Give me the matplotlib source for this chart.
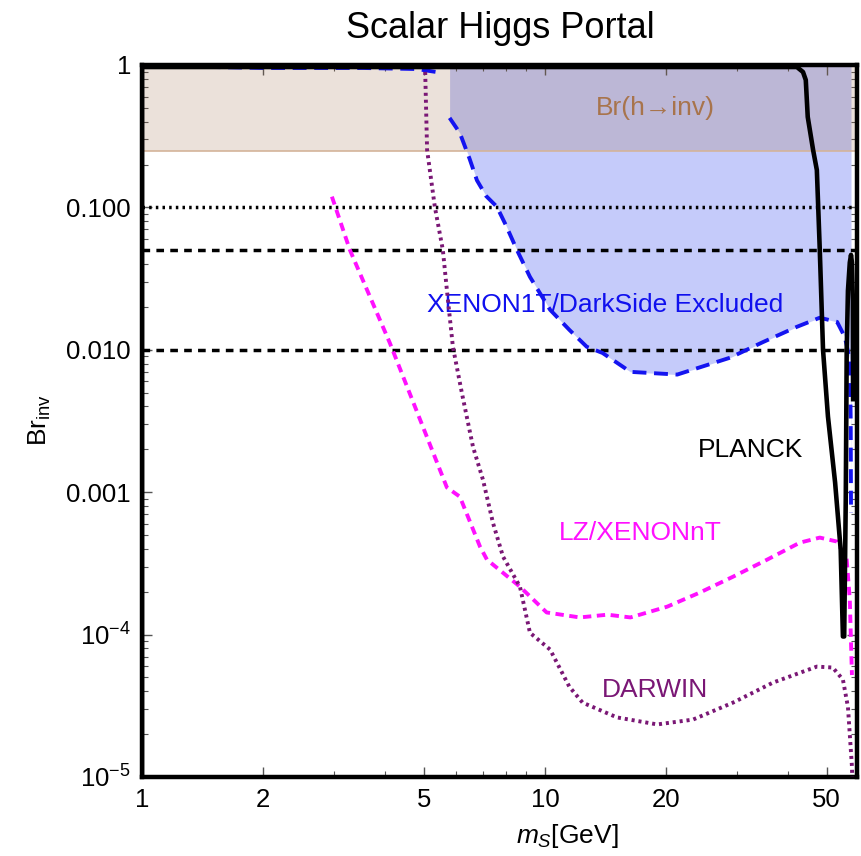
import numpy as np
import matplotlib
matplotlib.use("Agg")
import matplotlib.pyplot as plt
from matplotlib.ticker import FixedLocator, NullFormatter, LogLocator

plt.rcParams['font.family'] = ['Liberation Sans', 'DejaVu Sans']
plt.rcParams['mathtext.fontset'] = 'custom'
plt.rcParams['mathtext.rm'] = 'Liberation Sans'
plt.rcParams['mathtext.it'] = 'Liberation Sans:italic'
plt.rcParams['lines.scale_dashes'] = False

# XENON1T/DarkSide excluded boundary (blue dashed)
xenon_top_x = [1.0, 2.0, 3.54, 4.81, 5.58]
xenon_top_y = [0.99, 0.953, 0.953, 0.937, 0.879]
xenon_x = [5.8, 6.15, 6.5, 6.78, 7.15, 7.60, 8.0, 8.52, 9.18, 10.3, 11.5, 12.7, 13.9, 16.3,
           21.3, 28.8, 34.7, 42.2, 48.1, 53.1, 55.5, 57.1, 57.4, 57.5]
xenon_y = [0.425, 0.333, 0.22, 0.155, 0.12, 0.101, 0.075, 0.0503, 0.0325, 0.0191, 0.0138,
           0.0105, 0.0095, 0.0070, 0.0067, 0.0088, 0.0113, 0.0145, 0.0168, 0.0157, 0.0123,
           0.0085, 0.0032, 0.00072]

# LZ/XENONnT projection (magenta dashed)
lz_x = [2.96, 3.28, 4.12, 4.90, 5.71, 6.15, 6.90, 7.18, 8.67, 10.1, 12.2, 14.3, 16.3,
        20.1, 24.2, 29.3, 35.6, 42.9, 48.1, 53.1, 56.1, 57.1, 57.8]
lz_y = [0.119, 0.0503, 0.0112, 0.00323, 0.00108, 0.00093, 0.000415, 0.000336, 0.000217,
        0.000143, 0.000132, 0.000138, 0.000132, 0.000157, 0.000197, 0.000255, 0.000336,
        0.000442, 0.00048, 0.00045, 0.000336, 0.000176, 5.2e-5]

# DARWIN projection (purple dotted)
darwin_x = [5.04, 5.10, 5.33, 5.58, 5.71, 5.91, 6.22, 6.63, 7.02, 7.43, 7.87, 8.67, 9.18,
            10.3, 11.5, 12.4, 15.1, 19.0, 23.3, 29.3, 36.8, 47.3, 51.8, 54.9, 56.5, 57.8, 57.9]
darwin_y = [1.0, 0.253, 0.101, 0.0503, 0.0264, 0.0105, 0.00499, 0.00208, 0.00122, 0.00061,
            0.000353, 0.000217, 0.000103, 7.85e-5, 4.3e-5, 3.33e-5, 2.62e-5, 2.34e-5,
            2.53e-5, 3.33e-5, 4.6e-5, 5.96e-5, 5.87e-5, 4.83e-5, 3.1e-5, 1.19e-5, 1e-5]

# PLANCK relic density (black solid)
planck_x = [1.0, 1.0, 42.2, 43.7, 44.4, 44.9, 46.3, 47.3, 48.1, 49.0, 50.4, 52.5, 54.2,
            54.9, 55.3, 55.8, 56.1, 56.5, 57.1, 57.5, 57.8, 58.1, 58.2]
planck_y = [1e-5, 0.968, 0.968, 0.893, 0.785, 0.432, 0.253, 0.183, 0.0503, 0.01, 0.0034,
            0.00117, 0.000395, 9.7e-5, 9.7e-5, 0.00089, 0.01, 0.026, 0.041, 0.0464, 0.041,
            0.0225, 0.0045]

# Br(h->inv) band and reference lines
br_inv_lo = 0.25
ref_dotted = [0.1]
ref_dashed = [0.05, 0.01]

y_ticks = [1e-5, 1e-4, 1e-3, 1e-2, 1e-1, 1]
y_labels = ['$10^{-5}$', '$10^{-4}$', '0.001', '0.010', '0.100', '1']
x_ticks = [1, 2, 5, 10, 20, 50]
x_labels = ['1', '2', '5', '10', '20', '50']

xmin, xmax = 1.0, 59.5

fig = plt.figure(figsize=(8.61, 8.56), dpi=100)
ax = fig.add_axes([142/861, 1 - 777/856, (857 - 142)/861, (777 - 65)/856])
ax.set_xscale('log')
ax.set_yscale('log')
ax.set_xlim(xmin, xmax)
ax.set_ylim(1e-5, 1)

# excluded region and Br band
ax.fill_between(xenon_x, xenon_y, 1, color='#c5cbfa', lw=0, zorder=1)
ax.fill_between([xmin, xmax], br_inv_lo, 1, color=(155/255, 105/255, 70/255), alpha=0.2,
                lw=0, zorder=2)
ax.axhline(br_inv_lo, color='#d4b49a', lw=1.2, zorder=2)

for yv in ref_dotted:
    ax.axhline(yv, color='black', lw=2.5, linestyle=(0, (1.8, 3.0)), zorder=3)
for yv in ref_dashed:
    ax.axhline(yv, color='black', lw=2.5, linestyle=(0, (5.5, 4.5)), zorder=3)

ax.plot(planck_x, planck_y, color='black', lw=3.3, zorder=5, solid_joinstyle='round')
ax.plot(xenon_top_x, xenon_top_y, color='#1414f0', lw=2.8, linestyle=(0, (10, 5.5)), zorder=4)
ax.plot(xenon_x, xenon_y, color='#1414f0', lw=2.8, linestyle=(0, (10, 5.5)), zorder=4)
ax.plot(lz_x, lz_y, color='#ff10ff', lw=2.8, linestyle=(0, (6, 4)), zorder=4)
ax.plot(darwin_x, darwin_y, color='#7a1775', lw=2.8, linestyle=(0, (2.2, 2.8)), zorder=4)

txt = dict(ha='center', va='center', fontsize=19)
ax.text(18.75, 0.50, 'Br(h\u2192inv)', color='#a8744c', **txt)
ax.text(14.1, 0.0207, 'XENON1T/DarkSide Excluded', color='#1010ee', **txt)
ax.text(32.3, 0.00199, 'PLANCK', color='black', **txt)
ax.text(17.2, 0.00052, 'LZ/XENONnT', color='#ff10ff', **txt)
ax.text(18.75, 4.1e-5, 'DARWIN', color='#7a1775', **txt)

ax.xaxis.set_major_locator(FixedLocator(x_ticks))
ax.set_xticklabels(x_labels)
ax.xaxis.set_minor_locator(FixedLocator([3, 4, 6, 7, 8, 9, 30, 40]))
ax.xaxis.set_minor_formatter(NullFormatter())
ax.yaxis.set_major_locator(FixedLocator(y_ticks))
ax.set_yticklabels(y_labels)
ax.yaxis.set_minor_locator(LogLocator(base=10, subs=np.arange(2, 10), numticks=20))
ax.yaxis.set_minor_formatter(NullFormatter())
ax.tick_params(which='both', direction='in', top=True, right=True, labelsize=18.5, color='#555555')
ax.tick_params(which='major', length=7, width=1, pad=8)
ax.tick_params(which='minor', length=4, width=0.8)
for s in ax.spines.values():
    s.set_linewidth(3.2)

fig.text(500/861, 1 - 28/856, 'Scalar Higgs Portal', ha='center', va='center', fontsize=26)
fig.text(567/861, 1 - 836/856, '$m_S$[GeV]', ha='center', va='center', fontsize=19)
fig.text(40/861, 1 - 420/856, 'Br$_{\\rm inv}$', ha='center', va='center', fontsize=19,
         rotation=90)

fig.savefig('out.png', dpi=100)
